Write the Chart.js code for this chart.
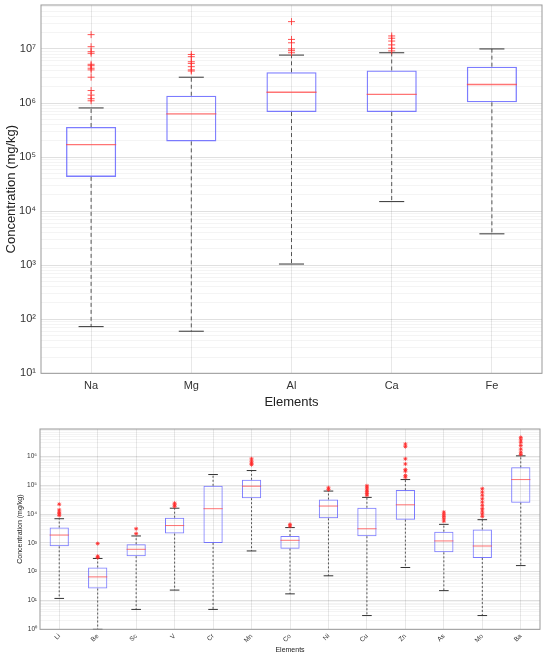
<!DOCTYPE html>
<html>
<head>
<meta charset="utf-8">
<script src="https://cdn.jsdelivr.net/npm/chart.js@4.4.1/dist/chart.umd.min.js"></script>
<style>
  html, body { margin: 0; padding: 0; background: #fff; }
  .wrap { position: absolute; left: 0; width: 550px; }
  #topWrap { top: 0; height: 412px; }
  #bottomWrap { top: 412px; height: 246px; }
</style>
</head>
<body>
<div class="wrap" id="topWrap"><canvas id="topChart"></canvas></div>
<div class="wrap" id="bottomWrap"><canvas id="bottomChart"></canvas></div>
<script>
// major elements (top panel)
const majorElements = ["Na", "Mg", "Al", "Ca", "Fe"];
const majorLow = [73, 60, 1050, 15000, 3800];
const majorQ1 = [4.3e4, 1.95e5, 6.8e5, 6.8e5, 1.03e6];
const majorMedian = [1.7e5, 6.3e5, 1.58e6, 1.45e6, 2.2e6];
const majorQ3 = [3.6e5, 1.36e6, 3.7e6, 4.0e6, 4.7e6];
const majorHigh = [8.1e5, 3.0e6, 7.7e6, 8.5e6, 1.0e7];
const majorOutliers = [
  [1.84e7, 1.1e7, 8.9e6, 8.3e6, 5.2e6, 4.9e6, 4.4e6, 4.1e6, 3.0e6, 1.7e6, 1.4e6, 1.2e6, 1.1e6],
  [7.9e6, 7.2e6, 5.8e6, 5.4e6, 4.7e6, 4.1e6, 3.9e6],
  [3.2e7, 1.5e7, 1.3e7, 1.0e7, 9.3e6, 8.5e6],
  [1.74e7, 1.58e7, 1.4e7, 1.19e7, 1.03e7, 9.2e6],
  []
];

// trace elements (bottom panel)
const traceElements = ["Li", "Be", "Sc", "V", "Cr", "Mn", "Co", "Ni", "Cu", "Zn", "As", "Mo", "Ba"];
const traceLow = [11.8, 1, 4.9, 23, 4.9, 525, 17, 72, 3.0, 140, 22, 3.0, 163];
const traceQ1 = [760, 26, 345, 2100, 1000, 3.57e4, 630, 7100, 1700, 6400, 470, 300, 2.5e4];
const traceMedian = [1870, 66, 600, 4000, 1.54e4, 9.3e4, 1230, 1.9e4, 3100, 2.1e4, 1170, 780, 1.58e5];
const traceQ3 = [3400, 140, 900, 7500, 9.6e4, 1.55e5, 1740, 3.2e4, 1.66e4, 6.8e4, 2450, 2900, 4.2e5];
const traceHigh = [6900, 288, 1740, 1.6e4, 2.36e5, 3.25e5, 3400, 6.3e4, 3.8e4, 1.58e5, 4400, 6400, 1.05e6];
const traceOutliers = [
  [2.2e4, 1.4e4, 1.17e4, 1.03e4, 9000],
  [950, 345, 310],
  [3100, 2100],
  [2.4e4, 2.1e4, 1.85e4],
  [],
  [8.3e5, 6.8e5, 5.8e5, 5.2e5],
  [4400, 3800],
  [8.2e4, 7.1e4],
  [9.6e4, 8.2e4, 6.9e4, 6.0e4, 5.2e4, 4.5e4],
  [2.7e6, 2.2e6, 8.3e5, 5.5e5, 3.5e5, 3.1e5, 2.2e5, 1.9e5],
  [1.17e4, 9800, 8300, 6900, 5700],
  [7.6e4, 5.8e4, 4.5e4, 3.4e4, 2.6e4, 2.0e4, 1.55e4, 1.27e4, 1.03e4, 8300],
  [4.6e6, 3.8e6, 3.1e6, 2.4e6, 1.8e6, 1.4e6, 1.17e6]
];

const FONT = "'Liberation Sans', Arial, sans-serif";
const SUP = { "0": "\u2070", "1": "\u00b9", "2": "\u00b2", "3": "\u00b3", "4": "\u2074",
  "5": "\u2075", "6": "\u2076", "7": "\u2077", "8": "\u2078", "9": "\u2079" };

function isDecade(v) {
  const e = Math.log10(v);
  return Math.abs(e - Math.round(e)) < 1e-9;
}

function decadeLabel(v) {
  if (!isDecade(v)) return "";
  return "10" + String(Math.round(Math.log10(v))).split("").map((d) => SUP[d]).join("");
}

function boxPlot(canvasId, opt) {
  const { labels, low, q1, median, q3, high, outliers } = opt;

  const points = [];
  outliers.forEach((list, i) => list.forEach((v) => points.push({ x: labels[i], y: v })));

  // whiskers, caps, medians and the axes frame
  const boxParts = {
    id: "boxParts",
    beforeDatasetsDraw(chart) {
      const { ctx, scales: { x, y } } = chart;
      const step = x.getPixelForValue(1) - x.getPixelForValue(0);
      const cap = step * 0.25;
      ctx.save();
      labels.forEach((_, i) => {
        const px = x.getPixelForValue(i);
        ctx.strokeStyle = "#555";
        ctx.lineWidth = 1;
        ctx.setLineDash(opt.dash);
        ctx.beginPath();
        ctx.moveTo(px, y.getPixelForValue(q3[i]));
        ctx.lineTo(px, y.getPixelForValue(high[i]));
        ctx.moveTo(px, y.getPixelForValue(q1[i]));
        ctx.lineTo(px, y.getPixelForValue(low[i]));
        ctx.stroke();
        ctx.setLineDash([]);
        ctx.strokeStyle = "#333";
        ctx.beginPath();
        ctx.moveTo(px - cap / 2, y.getPixelForValue(high[i]));
        ctx.lineTo(px + cap / 2, y.getPixelForValue(high[i]));
        ctx.moveTo(px - cap / 2, y.getPixelForValue(low[i]));
        ctx.lineTo(px + cap / 2, y.getPixelForValue(low[i]));
        ctx.stroke();
      });
      ctx.restore();
    },
    afterDatasetsDraw(chart) {
      const { ctx, chartArea: a, scales: { x, y } } = chart;
      const step = x.getPixelForValue(1) - x.getPixelForValue(0);
      const half = step * 0.25;
      ctx.save();
      ctx.strokeStyle = "rgba(255, 70, 70, 0.75)";
      ctx.lineWidth = opt.lineWidth;
      labels.forEach((_, i) => {
        const px = x.getPixelForValue(i);
        const py = y.getPixelForValue(median[i]);
        ctx.beginPath();
        ctx.moveTo(px - half, py);
        ctx.lineTo(px + half, py);
        ctx.stroke();
      });
      ctx.strokeStyle = "#999";
      ctx.lineWidth = 1;
      ctx.strokeRect(a.left, a.top, a.right - a.left, a.bottom - a.top);
      ctx.restore();
    }
  };

  return new Chart(document.getElementById(canvasId), {
    type: "bar",
    data: {
      labels: labels,
      datasets: [
        {
          type: "bar",
          data: q1.map((v, i) => [v, q3[i]]),
          backgroundColor: "rgba(0,0,0,0)",
          borderColor: "rgba(80, 80, 255, 0.75)",
          borderWidth: opt.lineWidth,
          borderSkipped: false,
          categoryPercentage: 1,
          barPercentage: 0.5,
          order: 2
        },
        {
          type: "line",
          data: points,
          showLine: false,
          pointStyle: opt.pointStyle,
          pointRadius: opt.pointRadius,
          pointBorderColor: "rgba(255, 40, 40, 0.8)",
          pointBackgroundColor: "rgba(255, 40, 40, 0.8)",
          pointBorderWidth: 1,
          order: 1
        }
      ]
    },
    options: {
      responsive: true,
      maintainAspectRatio: false,
      animation: false,
      layout: { padding: opt.padding },
      plugins: { legend: { display: false }, tooltip: { enabled: false } },
      scales: {
        x: {
          type: "category",
          offset: true,
          grid: { offset: false, color: "rgba(0,0,0,0.09)", drawTicks: false },
          border: { display: false },
          ticks: {
            color: "#333",
            font: { family: FONT, size: opt.tickSize },
            padding: opt.xTickPad,
            autoSkip: false,
            minRotation: opt.rotation,
            maxRotation: opt.rotation
          },
          title: {
            display: true,
            text: "Elements",
            color: "#222",
            font: { family: FONT, size: opt.titleSize },
            padding: { top: 0, bottom: opt.xTitlePad }
          },
          afterFit: (s) => {
            s.height = opt.xHeight;
            s.paddingLeft = 0;
            s.paddingRight = 0;
          }
        },
        y: {
          type: "logarithmic",
          min: opt.yMin,
          max: opt.yMax,
          grid: {
            drawTicks: false,
            color: (c) => (c.tick && isDecade(c.tick.value) ? "rgba(0,0,0,0.12)" : "rgba(0,0,0,0.045)")
          },
          border: { display: false },
          afterBuildTicks: (s) => {
            const ticks = [];
            for (let e = Math.floor(Math.log10(opt.yMin)); e <= Math.ceil(Math.log10(opt.yMax)); e++) {
              for (let k = 1; k < 10; k++) {
                const v = k * Math.pow(10, e);
                if (v >= opt.yMin && v <= opt.yMax) ticks.push({ value: v });
              }
            }
            s.ticks = ticks;
          },
          ticks: {
            color: "#333",
            autoSkip: false,
            font: { family: FONT, size: opt.tickSize },
            padding: opt.yTickPad,
            callback: (v) => decadeLabel(v)
          },
          title: {
            display: true,
            text: "Concentration (mg/kg)",
            color: "#222",
            font: { family: FONT, size: opt.titleSize },
            padding: { top: opt.yTitlePad, bottom: 0 }
          },
          afterFit: (s) => {
            s.width = opt.yWidth;
            s.paddingTop = 0;
            s.paddingBottom = 0;
          }
        }
      }
    },
    plugins: [boxParts]
  });
}

boxPlot("topChart", {
  labels: majorElements, low: majorLow, q1: majorQ1, median: majorMedian,
  q3: majorQ3, high: majorHigh, outliers: majorOutliers,
  yMin: 10, yMax: 6.5e7,
  padding: { top: 5, right: 8, left: 0, bottom: 0 },
  xHeight: 38.7, yWidth: 41,
  tickSize: 11, titleSize: 13, xTickPad: 6, yTickPad: 5,
  xTitlePad: 2, yTitlePad: 4, rotation: 0,
  dash: [4, 3], lineWidth: 1.3, pointStyle: "cross", pointRadius: 3.5
});

boxPlot("bottomChart", {
  labels: traceElements, low: traceLow, q1: traceQ1, median: traceMedian,
  q3: traceQ3, high: traceHigh, outliers: traceOutliers,
  yMin: 1, yMax: 9e6,
  padding: { top: 17, right: 10, left: 0, bottom: 0 },
  xHeight: 28.7, yWidth: 40,
  tickSize: 6.5, titleSize: 7, xTickPad: 3, yTickPad: 3,
  xTitlePad: 4, yTitlePad: 16, rotation: 45,
  dash: [2, 2], lineWidth: 1, pointStyle: "star", pointRadius: 2
});
</script>
</body>
</html>
